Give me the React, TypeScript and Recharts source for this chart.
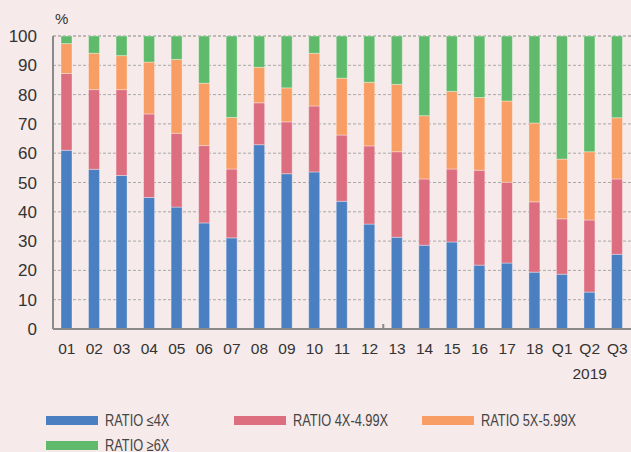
import { BarChart, Bar, XAxis, YAxis, CartesianGrid } from 'recharts';

const categories = ['01', '02', '03', '04', '05', '06', '07', '08', '09', '10', '11', '12', '13', '14', '15', '16', '17', '18', 'Q1', 'Q2', 'Q3'];

// stacked segments, each column sums to 100
const ratioUpTo4 = [61.0, 54.5, 52.4, 44.9, 41.6, 36.2, 31.1, 62.9, 53.0, 53.6, 43.6, 35.8, 31.3, 28.6, 29.7, 21.8, 22.5, 19.4, 18.7, 12.6, 25.5];
const ratio4To5 = [26.2, 27.2, 29.3, 28.5, 25.2, 26.4, 23.5, 14.3, 17.7, 22.5, 22.6, 26.7, 29.2, 22.6, 24.9, 32.4, 27.6, 24.0, 18.9, 24.6, 25.7];
const ratio5To6 = [10.2, 12.4, 11.6, 17.7, 25.2, 21.3, 17.6, 12.1, 11.6, 18.0, 19.4, 21.7, 23.0, 21.6, 26.5, 24.8, 27.7, 26.9, 20.4, 23.3, 20.9];
const ratioOver6 = [2.6, 5.9, 6.7, 8.9, 8.0, 16.1, 27.8, 10.7, 17.7, 5.9, 14.4, 15.8, 16.5, 27.2, 18.9, 21.0, 22.2, 29.7, 42.0, 39.5, 27.9];

const yTicks = [0, 10, 20, 30, 40, 50, 60, 70, 80, 90, 100];

const series = [
  { key: 'le4', name: 'RATIO ≤4X', values: ratioUpTo4, color: '#4a7fc1' },
  { key: 'r4', name: 'RATIO 4X-4.99X', values: ratio4To5, color: '#dc6e80' },
  { key: 'r5', name: 'RATIO 5X-5.99X', values: ratio5To6, color: '#f89d63' },
  { key: 'ge6', name: 'RATIO ≥6X', values: ratioOver6, color: '#5fbb6b' },
];

const data = categories.map((cat, i) => {
  const row: Record<string, string | number> = { cat };
  series.forEach(s => {
    row[s.key] = s.values[i];
  });
  return row;
});

const BG = '#f6eaea';
const FONT = '"Liberation Sans", Arial, sans-serif';
const HALF_BAND = 578 / categories.length / 2;

function XTick({ x, y, payload }: any) {
  return (
    <g>
      <text x={x} y={y} dy={17} textAnchor="middle" fontSize={15.5} fill="#333" fontFamily={FONT}>
        {payload.value}
      </text>
      {payload.value === 'Q2' && (
        <text x={x} y={y} dy={42} textAnchor="middle" fontSize={15.5} fill="#333" fontFamily={FONT}>
          2019
        </text>
      )}
      {payload.value === '13' && (
        <line x1={x - HALF_BAND} x2={x - HALF_BAND} y1={y - 13} y2={y - 8} stroke="#8a8a8a" strokeWidth={2} />
      )}
    </g>
  );
}

export default function App() {
  return (
    <div style={{ position: 'relative', width: 631, height: 452, background: BG, fontFamily: FONT, overflow: 'hidden' }}>
      <style>{'body{margin:0}'}</style>
      <BarChart
        width={631}
        height={452}
        data={data}
        margin={{ top: 36, right: 0, left: 0, bottom: 63 }}
        barCategoryGap={0}
      >
        <CartesianGrid vertical={false} stroke="#a8a8a8" strokeDasharray="3 2" />
        <XAxis
          dataKey="cat"
          height={60}
          tickLine={false}
          axisLine={{ stroke: '#8a8a8a', strokeWidth: 2 }}
          tick={<XTick />}
          interval={0}
        />
        <YAxis
          width={53}
          domain={[0, 100]}
          ticks={yTicks}
          tickLine={false}
          tickMargin={10}
          axisLine={{ stroke: '#8a8a8a', strokeWidth: 2 }}
          tick={{ fontSize: 17, fill: '#333', fontFamily: FONT }}
        />
        {series.map(s => (
          <Bar
            key={s.key}
            dataKey={s.key}
            name={s.name}
            stackId="a"
            fill={s.color}
            stroke="#ffffff"
            strokeOpacity={0.35}
            strokeWidth={1}
            barSize={11}
            isAnimationActive={false}
          />
        ))}
      </BarChart>
      <div style={{ position: 'absolute', left: 55, top: 10, fontSize: 15, color: '#333' }}>%</div>
      <div style={{ position: 'absolute', left: 46, top: 408, width: 580, display: 'flex', flexWrap: 'wrap' }}>
        {series.map(s => (
          <div key={s.key} style={{ width: 188, height: 25, display: 'flex', alignItems: 'center' }}>
            <span style={{ width: 52, height: 9, background: s.color, display: 'inline-block', marginRight: 7, flexShrink: 0 }} />
            <span
              style={{
                fontSize: 16,
                color: '#444',
                display: 'inline-block',
                whiteSpace: 'nowrap',
                transform: 'scaleX(0.8)',
                transformOrigin: 'left center',
              }}
            >
              {s.name}
            </span>
          </div>
        ))}
      </div>
    </div>
  );
}
